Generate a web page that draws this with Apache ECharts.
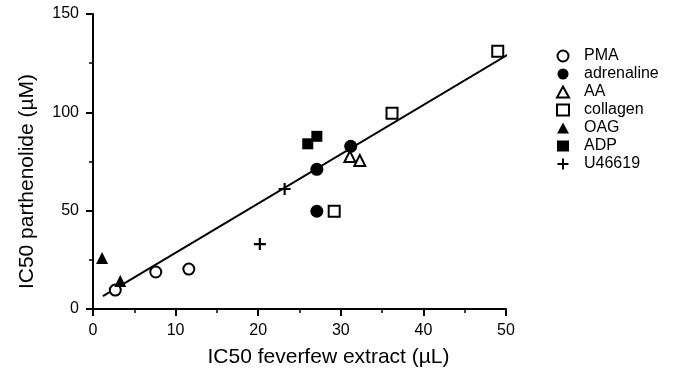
<!DOCTYPE html>
<html><head><meta charset="utf-8">
<script src="https://cdn.jsdelivr.net/npm/echarts@6/dist/echarts.min.js"></script>
<style>html,body{margin:0;padding:0;background:#fff}#c{width:673px;height:377px}</style>
</head><body><div id="c"></div>
<script>
const seriesNames = ['PMA','adrenaline','AA','collagen','OAG','ADP','U46619'];
const PMA = [[2.7,9.6],[7.6,18.8],[11.6,20.3]];
const adrenaline = [[27.1,71],[27.1,49.7],[31.2,82.7]];
const AA = [[31.1,77.5],[32.3,75.5]];
const collagen = [[29.2,49.7],[36.2,99.5],[49.0,131]];
const OAG = [[1.1,25.9],[3.3,14.2]];
const ADP = [[26.0,84],[27.1,87.8]];
const U46619 = [[23.2,61],[20.2,33]];
const fitLine = [[1.2,6.6],[50.5,130]];
const xTicks = [0,10,20,30,40,50];
const yTicks = [0,50,100,150];

const font = 'Liberation Sans, Arial, sans-serif';
const plus = 'path://M4.1,0h1.8v4.1h4.1v1.8h-4.1v4.1h-1.8v-4.1h-4.1v-1.8h4.1z';
const sym = {
  PMA:{symbol:'emptyCircle',size:11,empty:true},
  adrenaline:{symbol:'circle',size:13,empty:false},
  AA:{symbol:'emptyTriangle',size:11,empty:true},
  collagen:{symbol:'emptyRect',size:11,empty:true},
  OAG:{symbol:'triangle',size:12,empty:false},
  ADP:{symbol:'rect',size:11,empty:false},
  U46619:{symbol:plus,size:12,empty:false}
};
const dataMap = {PMA, adrenaline, AA, collagen, OAG, ADP, U46619};

const series = [{
  type:'line', data: fitLine, symbol:'none', silent:true,
  lineStyle:{color:'#000',width:2}, z:1, legendHoverLink:false
}];
seriesNames.forEach(n=>{
  const s = sym[n];
  series.push({
    name:n, type:'scatter', data:dataMap[n], symbol:s.symbol, symbolSize:s.size, z:3,
    itemStyle: s.empty ? {color:'#000', borderColor:'#000', borderWidth:2, opacity:1} : {color:'#000', borderWidth:0, opacity:1}
  });
});

const chart = echarts.init(document.getElementById('c'));
chart.setOption({
  animation:false,
  backgroundColor:'#fff',
  grid:{left:93,right:167,top:14,bottom:68},
  legend:{
    orient:'vertical', left:551, top:42, itemGap:0, itemWidth:12, itemHeight:11,
    data: seriesNames,
    textStyle:{fontFamily:font,fontSize:16,color:'#000',padding:[0,0,0,10],lineHeight:18},
    selectedMode:false
  },
  xAxis:{
    type:'value', min:0, max:50, interval:10,
    name:'IC50 feverfew extract (µL)', nameLocation:'middle', nameGap:38,
    nameTextStyle:{fontFamily:font,fontSize:21,color:'#000',padding:[0,0,0,58]},
    axisLine:{show:true,lineStyle:{color:'#000',width:2}},
    axisTick:{show:true,length:7,inside:false,lineStyle:{color:'#000',width:2}},
    minorTick:{show:true,splitNumber:2,length:4,lineStyle:{color:'#000',width:1.5}},
    axisLabel:{fontFamily:font,fontSize:16,color:'#000',margin:14},
    splitLine:{show:false}
  },
  yAxis:{
    type:'value', min:0, max:150, interval:50,
    name:'IC50 parthenolide (µM)', nameLocation:'middle', nameGap:55, nameRotate:90,
    nameTextStyle:{fontFamily:font,fontSize:21,color:'#000',padding:[0,40,0,0]},
    axisLine:{show:true,lineStyle:{color:'#000',width:2}},
    axisTick:{show:true,length:7,inside:false,lineStyle:{color:'#000',width:2}},
    minorTick:{show:true,splitNumber:2,length:4,lineStyle:{color:'#000',width:1.5}},
    axisLabel:{fontFamily:font,fontSize:16,color:'#000',margin:14},
    splitLine:{show:false}
  },
  series: series
});
</script></body></html>
